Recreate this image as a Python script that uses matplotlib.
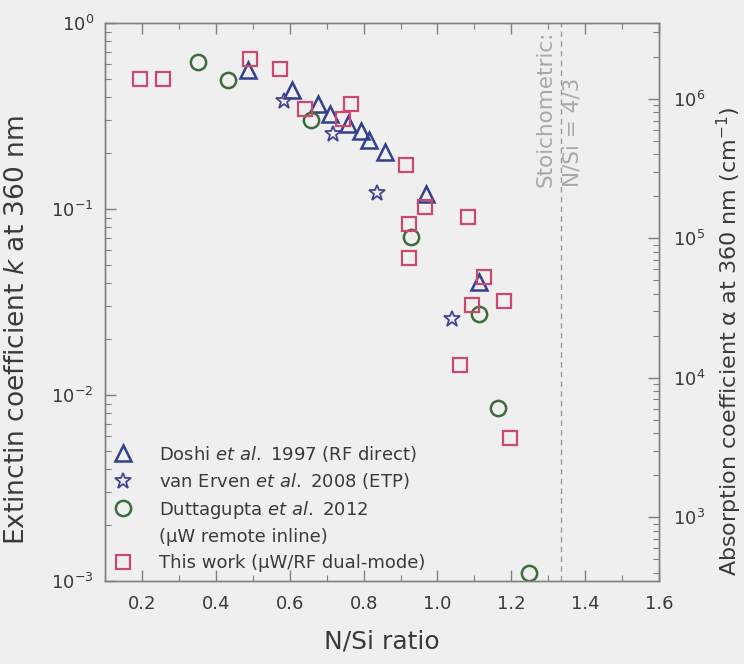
import matplotlib
matplotlib.use("Agg")
import matplotlib.pyplot as plt
from matplotlib.lines import Line2D

# ---- data ----
doshi_x = [0.486, 0.605, 0.676, 0.708, 0.758, 0.794, 0.816, 0.859, 0.969, 1.112]
doshi_k = [0.559, 0.440, 0.370, 0.324, 0.286, 0.264, 0.235, 0.203, 0.121, 0.0407]

erven_x = [0.584, 0.716, 0.836, 1.039]
erven_k = [0.381, 0.253, 0.122, 0.0255]

dutta_x = [0.352, 0.433, 0.659, 0.929, 1.112, 1.164, 1.249]
dutta_k = [0.615, 0.494, 0.303, 0.0705, 0.0272, 0.00849, 0.00111]

work_x = [0.195, 0.256, 0.492, 0.573, 0.641, 0.767, 0.744, 0.914, 0.965, 1.082,
          0.922, 0.922, 1.127, 1.094, 1.181, 1.060, 1.195]
work_k = [0.50, 0.50, 0.64, 0.564, 0.344, 0.370, 0.307, 0.172, 0.103, 0.091,
          0.0827, 0.0543, 0.0433, 0.0307, 0.0321, 0.0145, 0.00585]

stoich = 4.0 / 3.0
x_ticks = [0.2, 0.4, 0.6, 0.8, 1.0, 1.2, 1.4, 1.6]
x_tick_labels = ["0.2", "0.4", "0.6", "0.8", "1.0", "1.2", "1.4", "1.6"]

labels = ["Doshi $\\it{et\\ al.}$ 1997 (RF direct)",
          "van Erven $\\it{et\\ al.}$ 2008 (ETP)",
          "Duttagupta $\\it{et\\ al.}$ 2012",
          "(µW remote inline)",
          "This work (µW/RF dual-mode)"]

# ---- style ----
bg = "#efefef"
txt = "#3a3a3a"
spine = "#808080"
c_tri = "#343f8e"
c_star = "#45458f"
c_circ = "#3d6b3d"
c_sq = "#c84a6c"

plt.rcParams["font.family"] = ["DejaVu Sans"]

fig = plt.figure(figsize=(7.44, 6.64), dpi=100, facecolor=bg)
ax = fig.add_axes([0.141, 0.125, 0.745, 0.840])
ax.set_facecolor(bg)

ax.set_xscale("linear")
ax.set_yscale("log")
ax.set_xlim(0.1, 1.6)
ax.set_ylim(1e-3, 1)

h1, = ax.plot(doshi_x, doshi_k, ls="none", marker="^", ms=12, mfc="none",
              mec=c_tri, mew=1.8)
h2, = ax.plot(erven_x, erven_k, ls="none", marker="*", ms=12, mfc="none",
              mec=c_star, mew=1.3)
h3, = ax.plot(dutta_x, dutta_k, ls="none", marker="o", ms=11, mfc="none",
              mec=c_circ, mew=1.8)
h4, = ax.plot(work_x, work_k, ls="none", marker="s", ms=9.5, mfc="none",
              mec=c_sq, mew=1.6)
blank = Line2D([], [], ls="none", marker="none")

ax.axvline(stoich, color="#9a9a9a", ls=(0, (4, 3)), lw=1.0)
ax.text(stoich - 0.004, 0.131, "Stoichometric:\nN/Si = 4/3", rotation=90,
        ha="center", va="bottom", multialignment="left",
        color="#a8a8a8", fontsize=15.5, linespacing=1.4)

ax.set_xticks(x_ticks)
ax.set_xticklabels(x_tick_labels)
ax.set_xticks([0.1 + 0.1 * i for i in range(16)], minor=True)
ax.tick_params(axis="both", which="both", direction="in", colors=spine,
               labelcolor=txt, labelsize=13)
ax.tick_params(axis="x", which="both", top=True)
ax.tick_params(which="major", length=8, width=1)
ax.tick_params(which="minor", length=4, width=0.8)
ax.tick_params(axis="x", pad=10)
ax.tick_params(axis="y", pad=8, right=False)
for s in ax.spines.values():
    s.set_color(spine)
    s.set_linewidth(1.0)

ax.set_xlabel("N/Si ratio", fontsize=18, color=txt, labelpad=12)
ax.set_ylabel("Extinctin coefficient $k$ at 360 nm", fontsize=19, color=txt,
              labelpad=12)
ax.yaxis.set_label_coords(-0.135, 0.45)

ax2 = ax.twinx()
ax2.set_yscale("log")
ax2.set_ylim(349, 3.49e6)
ax2.tick_params(axis="y", which="both", direction="in", colors=spine,
                labelcolor=txt, labelsize=13, pad=10)
ax2.tick_params(which="major", length=8, width=1)
ax2.tick_params(which="minor", length=4, width=0.8)
for s in ax2.spines.values():
    s.set_color(spine)
    s.set_linewidth(1.0)
ax2.set_ylabel("Absorption coefficient α at 360 nm (cm$^{-1}$)", fontsize=16,
               color=txt, labelpad=10)
ax2.yaxis.set_label_coords(1.1, 0.43)

leg = ax.legend([h1, h2, h3, blank, h4], labels, loc="lower left",
                bbox_to_anchor=(0.0, 0.0), frameon=False, fontsize=13,
                handlelength=1.0, handletextpad=1.5, labelspacing=0.42,
                borderaxespad=0.1, borderpad=0.4)
for t in leg.get_texts():
    t.set_color(txt)

fig.savefig("out.png", dpi=100, facecolor=bg)
